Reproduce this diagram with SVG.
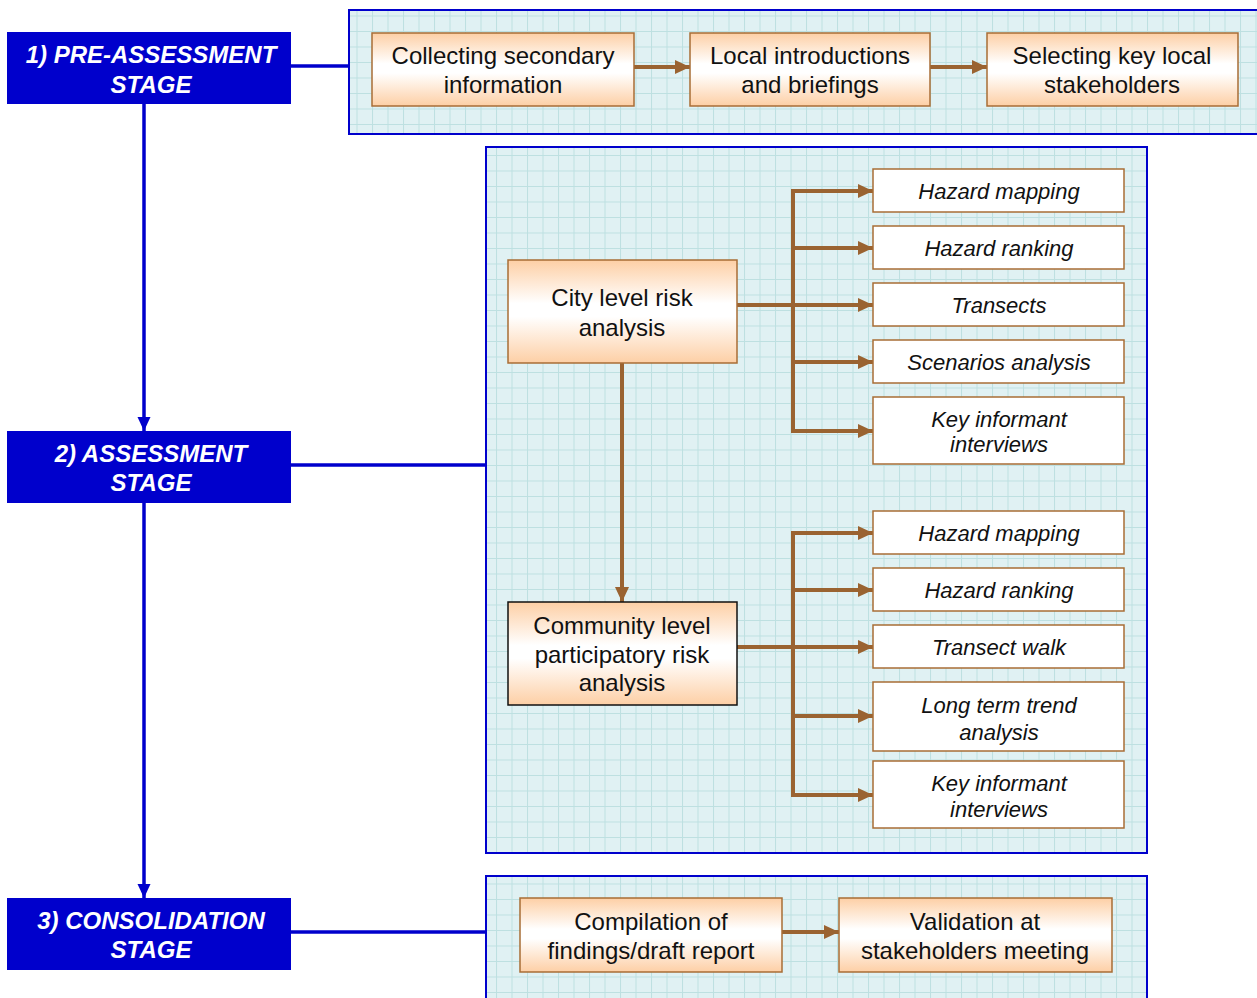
<svg xmlns="http://www.w3.org/2000/svg" width="1257" height="998" viewBox="0 0 1257 998">
<defs>
<style>
.stage{fill:#0000cc;}
.stxt{font-family:"Liberation Sans",Arial,sans-serif;font-size:24px;font-weight:bold;font-style:italic;fill:#fff;text-anchor:middle;}
.panel{fill:url(#grid);stroke:#0000cc;stroke-width:2;}
.bline{stroke:#0000cc;stroke-width:3.5;fill:none;}
.box{fill:url(#peach);stroke:#a86d36;stroke-width:1.5;}
.wbox{fill:#fff;stroke:#a86d36;stroke-width:1.5;}
.txt{font-family:"Liberation Sans",Arial,sans-serif;font-size:24px;fill:#111;text-anchor:middle;}
.itxt{font-family:"Liberation Sans",Arial,sans-serif;font-size:22px;font-style:italic;fill:#111;text-anchor:middle;}
.arr{stroke:#9a6331;stroke-width:4;fill:none;}
</style>
<pattern id="grid" patternUnits="userSpaceOnUse" width="15.5" height="15.5">
<rect width="15.5" height="15.5" fill="#e0f1f3"/>
<path d="M0,0.5 H15.5 M0.5,0 V15.5" stroke="#bde0e1" stroke-width="1"/>
</pattern>
<linearGradient id="peach" x1="0" y1="0" x2="0" y2="1">
<stop offset="0" stop-color="#fdcfa5"/>
<stop offset="0.42" stop-color="#ffffff"/>
<stop offset="0.55" stop-color="#ffffff"/>
<stop offset="1" stop-color="#fdcfa5"/>
</linearGradient>
<marker id="ba" markerUnits="userSpaceOnUse" markerWidth="16" markerHeight="16" refX="15" refY="8" orient="auto">
<path d="M0,1 L15,8 L0,15 z" fill="#9a6331"/>
</marker>
<marker id="bl" markerUnits="userSpaceOnUse" markerWidth="16" markerHeight="16" refX="14" refY="8" orient="auto">
<path d="M0,1.5 L14,8 L0,14.5 z" fill="#0000cc"/>
</marker>
</defs>
<rect width="1257" height="998" fill="#fff"/>

<g id="panels">
<rect class="panel" x="349" y="10" width="912" height="124"/>
<rect class="panel" x="486" y="147" width="661" height="706"/>
<rect class="panel" x="486" y="876" width="661" height="130"/>
</g>

<g id="connectors">
<line class="bline" x1="291" y1="66" x2="349" y2="66"/>
<line class="bline" x1="291" y1="465" x2="486" y2="465"/>
<line class="bline" x1="291" y1="932" x2="486" y2="932"/>
<line class="bline" x1="144" y1="104" x2="144" y2="431" marker-end="url(#bl)"/>
<line class="bline" x1="144" y1="503" x2="144" y2="898" marker-end="url(#bl)"/>

<line class="arr" x1="634" y1="67" x2="690" y2="67" marker-end="url(#ba)"/>
<line class="arr" x1="930" y1="67" x2="987" y2="67" marker-end="url(#ba)"/>
<line class="arr" x1="782" y1="932" x2="839" y2="932" marker-end="url(#ba)"/>

<line class="arr" x1="622" y1="363" x2="622" y2="602" marker-end="url(#ba)"/>

<line class="arr" x1="737" y1="305" x2="873" y2="305" marker-end="url(#ba)"/>
<line class="arr" x1="793" y1="189" x2="793" y2="433"/>
<line class="arr" x1="791" y1="191" x2="873" y2="191" marker-end="url(#ba)"/>
<line class="arr" x1="793" y1="248" x2="873" y2="248" marker-end="url(#ba)"/>
<line class="arr" x1="793" y1="362" x2="873" y2="362" marker-end="url(#ba)"/>
<line class="arr" x1="791" y1="431" x2="873" y2="431" marker-end="url(#ba)"/>

<line class="arr" x1="737" y1="647" x2="873" y2="647" marker-end="url(#ba)"/>
<line class="arr" x1="793" y1="531" x2="793" y2="797"/>
<line class="arr" x1="791" y1="533" x2="873" y2="533" marker-end="url(#ba)"/>
<line class="arr" x1="793" y1="590" x2="873" y2="590" marker-end="url(#ba)"/>
<line class="arr" x1="793" y1="716" x2="873" y2="716" marker-end="url(#ba)"/>
<line class="arr" x1="791" y1="795" x2="873" y2="795" marker-end="url(#ba)"/>
</g>

<g id="stage1">
<rect class="stage" x="7" y="32" width="284" height="72"/>
<text class="stxt" x="151" y="63">1) PRE-ASSESSMENT</text>
<text class="stxt" x="151" y="93">STAGE</text>
</g>
<g id="stage2">
<rect class="stage" x="7" y="431" width="284" height="72"/>
<text class="stxt" x="151" y="462">2) ASSESSMENT</text>
<text class="stxt" x="151" y="491">STAGE</text>
</g>
<g id="stage3">
<rect class="stage" x="7" y="898" width="284" height="72"/>
<text class="stxt" x="151" y="929">3) CONSOLIDATION</text>
<text class="stxt" x="151" y="958">STAGE</text>
</g>

<g id="collecting">
<rect class="box" x="372" y="33" width="262" height="73"/>
<text class="txt" x="503" y="64">Collecting secondary</text>
<text class="txt" x="503" y="93">information</text>
</g>
<g id="local">
<rect class="box" x="690" y="33" width="240" height="73"/>
<text class="txt" x="810" y="64">Local introductions</text>
<text class="txt" x="810" y="93">and briefings</text>
</g>
<g id="selecting">
<rect class="box" x="987" y="33" width="251" height="73"/>
<text class="txt" x="1112" y="64">Selecting key local</text>
<text class="txt" x="1112" y="93">stakeholders</text>
</g>

<g id="city">
<rect class="box" x="508" y="260" width="229" height="103"/>
<text class="txt" x="622" y="306">City level risk</text>
<text class="txt" x="622" y="336">analysis</text>
</g>
<g id="community">
<rect class="box" x="508" y="602" width="229" height="103" style="stroke:#111"/>
<text class="txt" x="622" y="634">Community level</text>
<text class="txt" x="622" y="663">participatory risk</text>
<text class="txt" x="622" y="691">analysis</text>
</g>

<g id="c-hazard-mapping">
<rect class="wbox" x="873" y="169" width="251" height="43"/>
<text class="itxt" x="999" y="199">Hazard mapping</text>
</g>
<g id="c-hazard-ranking">
<rect class="wbox" x="873" y="226" width="251" height="43"/>
<text class="itxt" x="999" y="256">Hazard ranking</text>
</g>
<g id="c-transects">
<rect class="wbox" x="873" y="283" width="251" height="43"/>
<text class="itxt" x="999" y="313">Transects</text>
</g>
<g id="c-scenarios">
<rect class="wbox" x="873" y="340" width="251" height="43"/>
<text class="itxt" x="999" y="370">Scenarios analysis</text>
</g>
<g id="c-key">
<rect class="wbox" x="873" y="397" width="251" height="67"/>
<text class="itxt" x="999" y="427">Key informant</text>
<text class="itxt" x="999" y="452">interviews</text>
</g>

<g id="m-hazard-mapping">
<rect class="wbox" x="873" y="511" width="251" height="43"/>
<text class="itxt" x="999" y="541">Hazard mapping</text>
</g>
<g id="m-hazard-ranking">
<rect class="wbox" x="873" y="568" width="251" height="43"/>
<text class="itxt" x="999" y="598">Hazard ranking</text>
</g>
<g id="m-transect-walk">
<rect class="wbox" x="873" y="625" width="251" height="43"/>
<text class="itxt" x="999" y="655">Transect walk</text>
</g>
<g id="m-long-term">
<rect class="wbox" x="873" y="682" width="251" height="69"/>
<text class="itxt" x="999" y="713">Long term trend</text>
<text class="itxt" x="999" y="740">analysis</text>
</g>
<g id="m-key">
<rect class="wbox" x="873" y="761" width="251" height="67"/>
<text class="itxt" x="999" y="791">Key informant</text>
<text class="itxt" x="999" y="817">interviews</text>
</g>

<g id="compilation">
<rect class="box" x="520" y="898" width="262" height="74"/>
<text class="txt" x="651" y="930">Compilation of</text>
<text class="txt" x="651" y="959">findings/draft report</text>
</g>
<g id="validation">
<rect class="box" x="839" y="898" width="273" height="74"/>
<text class="txt" x="975" y="930">Validation at</text>
<text class="txt" x="975" y="959">stakeholders meeting</text>
</g>
</svg>
